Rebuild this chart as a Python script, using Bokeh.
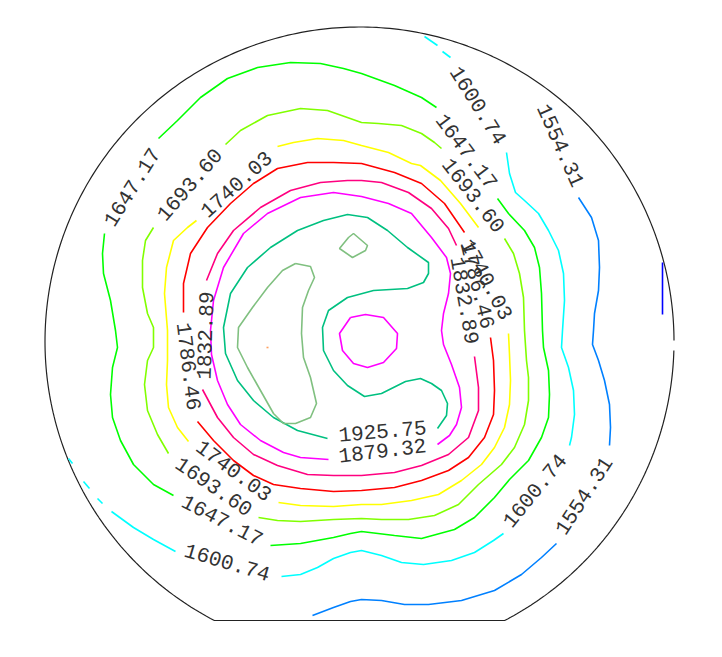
import numpy as np
from bokeh.plotting import figure
from bokeh.models import ColumnDataSource, Range1d
from bokeh.embed import file_html
from bokeh.resources import INLINE
from bokeh.core.properties import value

# ---------------- data (wafer coordinates, origin at wafer centre, y up) ----------------
LEVELS = [1507.88, 1554.31, 1600.74, 1647.17, 1693.60, 1740.03,
          1786.46, 1832.89, 1879.32, 1925.75, 1972.18, 2018.61]

C1507 = [[(303, 79), (303, 27)]]
C1554 = [
    [(219, 144), (232, 124), (239, 101), (240, 74), (239, 51), (235, 28), (234, 11), (233, -3),
     (239, -19), (245, -39), (250, -63), (251, -86), (250, -104)],
    [(197, -202), (182, -216), (162, -233), (135, -249), (102, -259), (69, -263), (45, -263),
     (22, -259), (2, -258), (-9, -260), (-26, -266), (-47, -274)],
]
C1600 = [
    [(65, 305), (78, 296)],
    [(83, 290), (91, 284)],
    [(147, 189), (150, 168), (156, 149), (165, 141), (179, 128), (189, 111), (199, 91), (204, 68),
     (205, 41), (203, 11), (202, -6), (209, -26), (214, -49), (215, -73), (212, -96), (210, -104)],
    [(144, -192), (134, -199), (115, -211), (92, -219), (64, -223), (42, -221), (22, -214),
     (2, -209), (-9, -211), (-26, -217), (-42, -226), (-59, -233), (-78, -235)],
    [(-184, -210), (-206, -198), (-226, -186), (-248, -170)],
    [(-262, -157), (-257, -162)],
    [(-276, -140), (-270, -147)],
    [(-291, -117), (-287, -122)],
]
C1647 = [
    [(-201, 203), (-182, 221), (-159, 244), (-132, 263), (-102, 274), (-69, 279), (-39, 278),
     (-16, 273), (2, 268), (35, 256), (62, 244), (77, 234)],
    [(138, 143), (149, 128), (165, 111), (175, 94), (180, 74), (182, 48), (183, 11), (184, -6),
     (189, -29), (190, -53), (189, -76), (182, -96), (169, -119), (150, -138), (135, -156),
     (115, -176), (95, -188), (62, -197), (35, -194), (2, -190), (-9, -192), (-26, -196),
     (-59, -202), (-89, -204)],
    [(-186, -154), (-206, -143), (-226, -123), (-239, -99), (-247, -76), (-249, -53), (-247, -26),
     (-242, -6), (-244, 11), (-249, 41), (-256, 68), (-257, 88), (-255, 108)],
]
C1693 = [
    [(-134, 197), (-119, 211), (-92, 226), (-59, 233), (-32, 231), (2, 219), (19, 218), (42, 216),
     (62, 208), (75, 199), (82, 193)],
    [(145, 103), (154, 88), (160, 68), (164, 44), (165, 11), (167, -19), (169, -36), (169, -59),
     (165, -83), (155, -106), (142, -123), (119, -143), (99, -163), (75, -174), (49, -178),
     (22, -178), (2, -177), (-26, -178), (-59, -180), (-82, -179), (-101, -176)],
    [(-191, -112), (-202, -93), (-212, -69), (-215, -43), (-212, -19), (-206, -6), (-206, 14),
     (-212, 28), (-217, 54), (-217, 81), (-214, 101), (-206, 114)],
]
C1740 = [
    [(-82, 195), (-66, 199), (-42, 203), (-16, 201), (2, 196), (29, 189), (52, 178), (61, 176),
     (81, 161), (101, 138), (119, 114)],
    [(149, 8), (150, -13), (151, -39), (150, -63), (145, -86), (135, -106), (122, -123),
     (102, -139), (79, -153), (52, -159), (22, -163), (2, -163), (-26, -165), (-59, -164),
     (-81, -161)],
    [(-171, -100), (-182, -86), (-191, -66), (-193, -43), (-192, -19), (-192, 11), (-195, 48),
     (-193, 74), (-186, 101), (-172, 114), (-163, 121)],
]
C1786 = [
    [(-176, 29), (-176, 58), (-169, 88), (-152, 114), (-129, 138), (-106, 158), (-82, 173),
     (-52, 179), (-26, 179), (2, 178), (35, 169), (62, 158), (85, 138), (105, 109)],
    [(131, 4), (134, -19), (135, -49), (134, -73), (125, -96), (109, -116), (89, -129),
     (62, -139), (35, -146), (2, -149), (-26, -150), (-59, -147), (-86, -143), (-106, -134),
     (-126, -119), (-146, -99), (-162, -80)],
]
C1832 = [
    [(-153, 61), (-142, 88), (-126, 111), (-99, 134), (-69, 151), (-39, 159), (-12, 161),
     (2, 161), (22, 159), (49, 149), (72, 133), (89, 113), (97, 96)],
    [(115, -15), (119, -46), (119, -69), (109, -96), (89, -113), (62, -124), (35, -131),
     (2, -134), (-26, -134), (-52, -133), (-82, -124), (-106, -113), (-126, -96), (-142, -76),
     (-157, -48)],
]
C1879 = [
    [(78, -103), (90, -94), (97, -83), (102, -66), (100, -46), (92, -23), (84, -3), (82, 11),
     (84, 28), (89, 48), (91, 68), (87, 84), (72, 104), (52, 128), (29, 138), (2, 145),
     (-26, 149), (-59, 144), (-92, 128), (-116, 108), (-136, 74), (-146, 41), (-149, 11),
     (-148, -13), (-142, -39), (-132, -63), (-119, -83), (-99, -99), (-76, -111), (-59, -116),
     (-31, -118)],
    [(-9, 24), (6, 27), (24, 24), (38, 8), (37, -7), (24, -21), (8, -26), (-6, -22), (-17, -9),
     (-20, 8), (-9, 24)],
]
C1925 = [
    [(78, -87), (87, -74), (88, -62), (82, -49), (72, -42), (61, -37), (46, -40), (22, -52),
     (5, -55), (-12, -44), (-26, -29), (-36, -9), (-37, 14), (-31, 31), (-12, 44), (14, 51),
     (48, 53), (64, 59), (69, 68), (69, 79), (48, 94), (28, 111), (8, 124), (-12, 127),
     (-36, 121), (-62, 111), (-89, 94), (-112, 74), (-129, 48), (-136, 14), (-134, -12),
     (-122, -39), (-106, -59), (-86, -76), (-62, -89), (-32, -97)],
]
C1972 = [
    [(-64, 78), (-49, 75), (-45, 64), (-51, 51), (-57, 34), (-58, 8), (-56, -16), (-49, -36),
     (-43, -62), (-49, -76), (-64, -82), (-76, -82), (-86, -72), (-99, -49), (-112, -26),
     (-122, -6), (-121, 14), (-107, 34), (-92, 54), (-77, 71), (-64, 78)],
    [(-6, 108), (8, 96), (6, 91), (-7, 84), (-20, 93), (-11, 104), (-6, 108)],
]
C2018 = [[(-93, -6), (-91, -6)]]

CONTOURS = [C1507, C1554, C1600, C1647, C1693, C1740, C1786, C1832, C1879, C1925, C1972, C2018]

# contour labels: level, position, rotation (degrees)
LABEL_LEVEL = [1554.31, 1554.31, 1600.74, 1600.74, 1600.74, 1647.17, 1647.17, 1647.17,
               1693.60, 1693.60, 1693.60, 1740.03, 1740.03, 1740.03, 1786.46, 1786.46,
               1832.89, 1832.89, 1879.32, 1925.75]
LABEL_X = [201, 224.5, 118.5, 175.3, -132.3, 107, -137.3, -227.3,
           113.7, -145.7, -169.8, 127, -125.7, -123, 118, -171,
           105, -154, 23, 23]
LABEL_Y = [196, -154.3, 236, -149.3, -221, 190, -179, 154.3,
           146, -145.2, 156.8, 62, -129.3, 157, 56, -25,
           41, 6, -109.5, -90]
LABEL_ANGLE = [-66, 57, -57.7, 50.7, -16.5, -53, -27.4, 58,
               -52, -34.5, 49, -62, -36.5, 42, -76, -83,
               -80, 88, 7, 5]

WAFER_RADIUS = 314.5
FLAT_Y = -279
NOTCH_Y = (-9, 1)

# ---------------- styling ----------------
COLORS = ["#0000ff", "#0080ff", "#00ffff", "#00ff00", "#80ff00", "#ffff00",
          "#ff0000", "#ff0080", "#ff00ff", "#00c080", "#80c080", "#ffa060"]

xs, ys, cols = [], [], []
for lev, segs, c in zip(LEVELS, CONTOURS, COLORS):
    for seg in segs:
        xs.append([pt[0] for pt in seg])
        ys.append([pt[1] for pt in seg])
        cols.append(c)

p = figure(width=700, height=635, output_backend="svg", toolbar_location=None,
           x_range=Range1d(-359, 341), y_range=Range1d(-294, 341),
           x_axis_location=None, y_axis_location=None, min_border=0)
p.grid.visible = False
p.outline_line_color = None
p.background_fill_color = "white"
p.border_fill_color = "white"

# wafer outline with flat and notch
t_flat = np.arcsin(FLAT_Y / WAFER_RADIUS)
t_n0 = np.arcsin(NOTCH_Y[0] / WAFER_RADIUS)
t_n1 = np.arcsin(NOTCH_Y[1] / WAFER_RADIUS)
tb = np.linspace(t_n1, np.pi - t_flat, 300)
ta = np.linspace(t_flat, t_n0, 100)
t_all = np.concatenate([tb, ta])
p.line(WAFER_RADIUS * np.cos(t_all), WAFER_RADIUS * np.sin(t_all), line_color="#222222", line_width=1.2)

src = ColumnDataSource(dict(xs=xs, ys=ys, color=cols))
p.multi_line(xs="xs", ys="ys", line_color="color", line_width=1.6, source=src)

lsrc = ColumnDataSource(dict(x=LABEL_X, y=LABEL_Y, angle=LABEL_ANGLE,
                             text=[f"{v:.2f}" for v in LABEL_LEVEL]))
p.text(x="x", y="y", text="text", angle="angle", angle_units="deg", source=lsrc,
       text_font=value("Liberation Mono"), text_font_size="21px", text_color="#333333",
       text_align="center", text_baseline="middle")

open("out.html", "w").write(file_html(p, INLINE))
